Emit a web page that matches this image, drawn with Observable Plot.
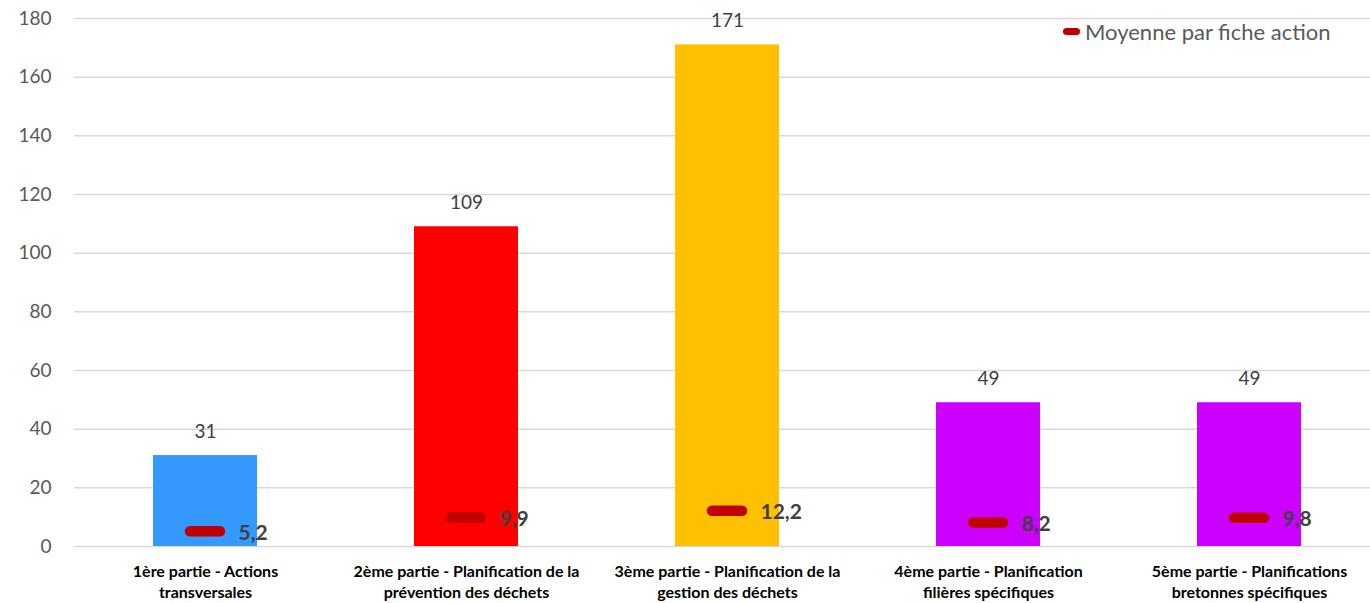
<!DOCTYPE html>
<html>
<head>
<meta charset="utf-8">
<script src="https://cdn.jsdelivr.net/npm/d3@7"></script>
<script src="https://cdn.jsdelivr.net/npm/@observablehq/plot@0.6"></script>
<style>
  html, body { margin: 0; padding: 0; background: #fff; }
  #wrap { position: relative; width: 1370px; height: 603px; overflow: hidden; font-family: Lato, "Liberation Sans", sans-serif; }
  #legend { position: absolute; left: 1063px; top: 18px; display: flex; align-items: center; font-size: 22px; color: #595959; }
  #legend .sw { width: 17px; height: 7px; border-radius: 4px; background: #C00000; margin-right: 5px; }
</style>
</head>
<body>
<div id="wrap"><div id="legend"><span class="sw"></span><span>Moyenne par fiche action</span></div></div>
<script>
const categories = [
  "1ère partie - Actions\ntransversales",
  "2ème partie - Planification de la\nprévention des déchets",
  "3ème partie - Planification de la\ngestion des déchets",
  "4ème partie - Planification\nfilières spécifiques",
  "5ème partie - Planifications\nbretonnes spécifiques"
];
const counts = [31, 109, 171, 49, 49];
const averages = [5.2, 9.9, 12.2, 8.2, 9.8];
const barColors = ["#3399FF", "#FF0000", "#FFC000", "#CC00FF", "#CC00FF"];
const yTicks = [0, 20, 40, 60, 80, 100, 120, 140, 160, 180];

const data = categories.map((c, i) => ({cat: c, count: counts[i], avg: averages[i], color: barColors[i]}));

const chart = Plot.plot({
  width: 1370,
  height: 603,
  marginTop: 18,
  marginBottom: 57,
  marginLeft: 74,
  marginRight: 0,
  style: {fontFamily: "Lato, 'Liberation Sans', sans-serif", background: "#fff", overflow: "hidden"},
  x: {domain: categories, range: [74, 1381], paddingInner: 0.6, paddingOuter: 0.3},
  y: {domain: [0, 180], range: [546, 18]},
  marks: [
    Plot.gridY(yTicks, {stroke: "#d9d9d9", strokeOpacity: 1, strokeWidth: 1.5}),
    Plot.axisY(yTicks, {tickSize: 0, tickPadding: 23, fontSize: 19, fill: "#595959", label: null}),
    Plot.axisX({tickSize: 0, tickPadding: 15, fontSize: 16, fontWeight: "bold", fill: "#000", lineHeight: 1.33, label: null, lineAnchor: "top"}),
    Plot.barY(data, {x: "cat", y: "count", fill: "color"}),
    Plot.text(data, {x: "cat", y: "count", text: d => String(d.count), dy: -24, fontSize: 19, fill: "#404040"}),
    Plot.tickY(data, {x: "cat", y: "avg", stroke: "#C00000", strokeWidth: 10.5, strokeLinecap: "round", insetLeft: 37, insetRight: 37}),
    Plot.text(data, {x: "cat", y: "avg", text: d => String(d.avg).replace(".", ","), textAnchor: "start", dx: 33, dy: 2, fontSize: 21, fontWeight: "bold", fill: "#404040"})
  ]
});
document.getElementById("wrap").prepend(chart);
</script>
</body>
</html>
